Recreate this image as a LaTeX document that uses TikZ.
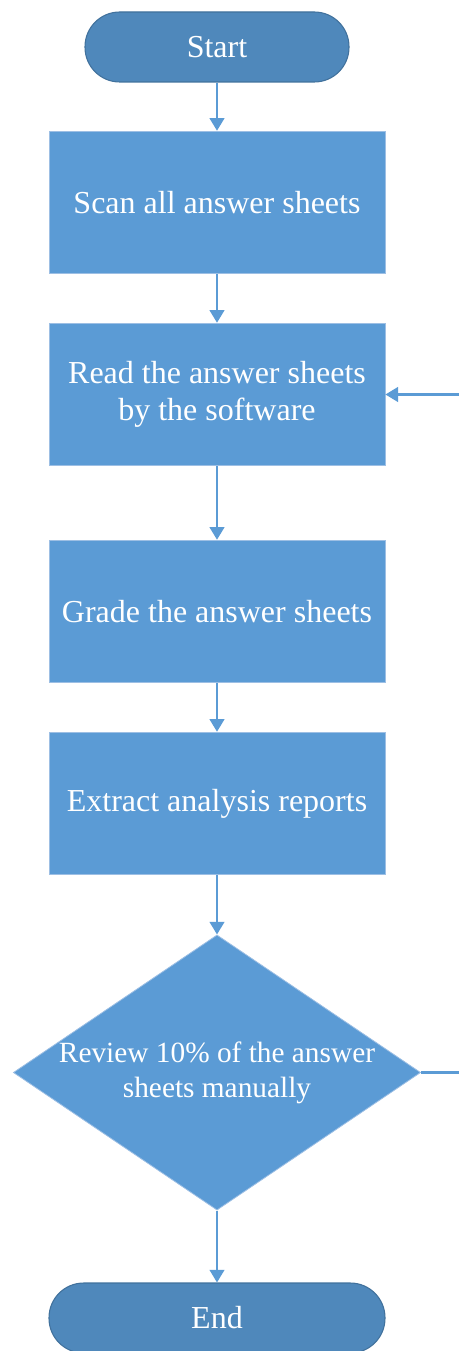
\documentclass[tikz,border=0pt]{standalone}
\usepackage{fontspec}
\setmainfont{Liberation Serif}
\usetikzlibrary{shapes.geometric,arrows.meta}
\definecolor{boxblue}{HTML}{5B9BD5}
\definecolor{termblue}{HTML}{4F88BB}
\definecolor{termedge}{HTML}{41719C}
\definecolor{boxedge}{HTML}{9DBFE4}
\tikzset{
termbox/.style={
  draw=termedge,
  fill=termblue,
  line width=0.8pt,
  rounded corners=26pt,
  minimum height=52.5pt,
  text=white,
  font=\fontsize{24}{28}\selectfont
  },
procbox/.style={
  draw=boxedge,
  fill=boxblue,
  line width=0.6pt,
  minimum width=252pt,
  minimum height=107pt,
  align=center,
  text=white,
  font=\fontsize{24}{28}\selectfont
  },
decbox/.style={
  procbox,
  diamond,
  inner sep=0pt,
  aspect=1.48,
  minimum width=305pt,
  minimum height=206pt,
  font=\fontsize{22}{26}\selectfont
  },
flowarrow/.style={
  draw=boxblue,
  line width=1.6pt,
  -{Triangle[length=9.5pt,width=11pt]}
  }
}
\begin{document}
\begin{tikzpicture}[x=0.75pt,y=-0.75pt]
    \useasboundingbox (0,0) rectangle (459,1351);
    % process chain
    \node[termbox,minimum width=198pt] (start) at (217,47) {Start};
    \node[procbox] (scan) at (217,202.5) {Scan all answer sheets};
    \node[procbox] (read) at (217,394.5) {Read the answer sheets\\by the software};
    \node[procbox] (grade) at (217,611.5) {Grade the answer sheets};
    \node[procbox] (extract) at (217,803.5) {Extract analysis reports};
    \node[decbox] (review) at (217,1072.5) {Review 10\% of the answer\\sheets manually};
    \node[termbox,minimum width=252pt] (end) at (217,1318) {End};
    \draw[flowarrow] (start) -- (scan);
    \draw[flowarrow] (scan) -- (read);
    \draw[flowarrow] (read) -- (grade);
    \draw[flowarrow] (grade) -- (extract);
    \draw[flowarrow] (extract) -- (review);
    \draw[flowarrow] (review) -- (end);
    % back to reading
    \draw[flowarrow] (review.east) -- ++(60,0) |- (read.east);
\end{tikzpicture}
\end{document}
